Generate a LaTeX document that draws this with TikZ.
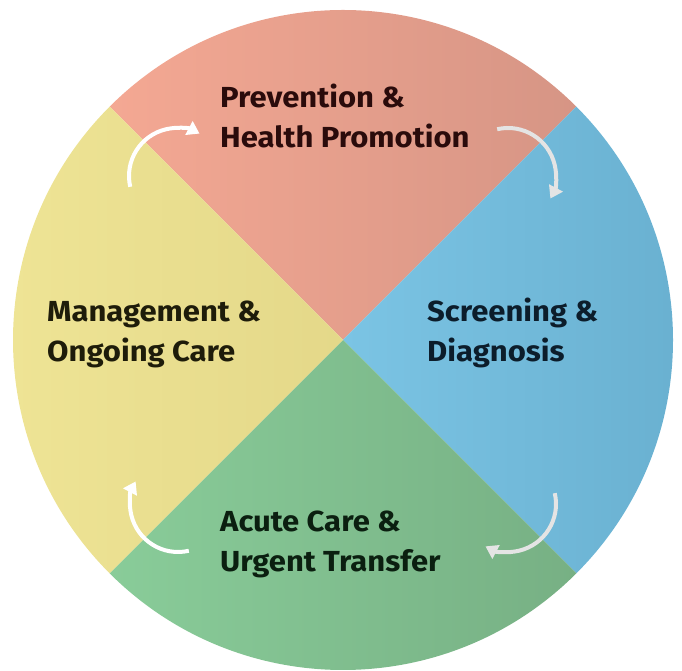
\documentclass[tikz,border=0pt]{standalone}
\usepackage{fontspec}
\setmainfont{Fira Sans}[FakeStretch=1.07]
\usetikzlibrary{arrows.meta}
\definecolor{tlA}{HTML}{F4A893}
\definecolor{tlB}{HTML}{D69585}
\definecolor{rbA}{HTML}{7BC4E4}
\definecolor{rbB}{HTML}{68AFCF}
\definecolor{grA}{HTML}{89CC99}
\definecolor{grB}{HTML}{77B084}
\definecolor{ylA}{HTML}{EFE596}
\definecolor{ylB}{HTML}{E4D889}
\definecolor{txtTop}{HTML}{2A0B0B}
\definecolor{txtRight}{HTML}{0C1D2B}
\definecolor{txtBottom}{HTML}{0B1F10}
\definecolor{txtLeft}{HTML}{1E1C0A}
\definecolor{arrowGray}{HTML}{E4E4E4}
\tikzset{
  label/.style={anchor=base west, align=left, inner sep=0pt, font=\fontsize{29}{40}\selectfont\bfseries},
  cyc/.style={line width=4pt, -{Triangle[length=12pt,width=15pt]}},
}
\begin{document}
\begin{tikzpicture}[x=1pt,y=1pt]
\useasboundingbox (0,0) rectangle (682,671);
\coordinate (C) at (343,331);
\def\R{330}
% quadrants
\shade[left color=tlA, right color=tlB] (C) -- ++(45:\R) arc[start angle=45,end angle=135,radius=\R] -- cycle;
\shade[left color=rbA, right color=rbB] (C) -- ++(-45:\R) arc[start angle=-45,end angle=45,radius=\R] -- cycle;
\shade[left color=grA, right color=grB] (C) -- ++(225:\R) arc[start angle=225,end angle=315,radius=\R] -- cycle;
\shade[left color=ylA, right color=ylB] (C) -- ++(135:\R) arc[start angle=135,end angle=225,radius=\R] -- cycle;
% labels (anchor = baseline of last line)
\node[label, text=txtTop] (prev) at (220,523) {Prevention \&\\Health Promotion};
\node[label, text=txtRight] (scr) at (427,309) {Screening \&\\Diagnosis};
\node[label, text=txtBottom] (acute) at (220,99) {Acute Care \&\\Urgent Transfer};
\node[label, text=txtLeft] (mgmt) at (47,309) {Management \&\\Ongoing Care};
% cycle arrows
\coordinate (tl) at (177,495);
\coordinate (tr) at (508,495);
\coordinate (br) at (508,167);
\coordinate (bl) at (178,167);
\draw[cyc, white] (tl) ++(193:48) arc[start angle=193, end angle=62, radius=48];
\draw[cyc, arrowGray] (tr) ++(103:48) arc[start angle=103, end angle=-28, radius=48];
\draw[cyc, arrowGray] (br) ++(13:48) arc[start angle=13, end angle=-118, radius=48];
\draw[cyc, white] (bl) ++(-77:48) arc[start angle=-77, end angle=-208, radius=48];
\end{tikzpicture}
\end{document}
